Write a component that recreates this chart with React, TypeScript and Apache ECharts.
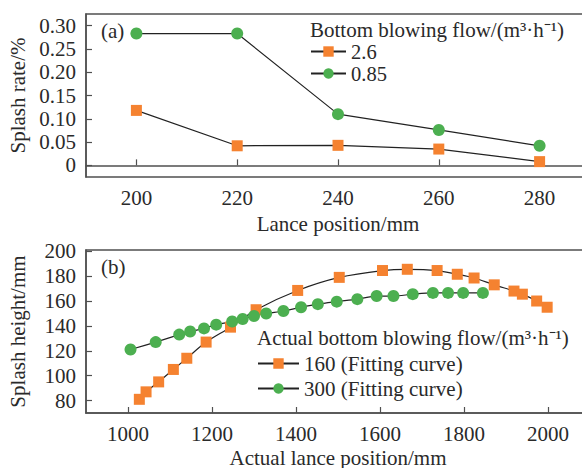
import React, { useEffect, useRef } from "react";
import * as echarts from "echarts";

const lancePos = [200, 220, 240, 260, 280];
const rate26 = [0.118, 0.042, 0.043, 0.035, 0.008];
const rate085 = [0.283, 0.283, 0.11, 0.076, 0.042];
const rateTicks = [0, 0.05, 0.1, 0.15, 0.2, 0.25, 0.3];

const pos160 = [1027, 1043, 1073, 1108, 1140, 1186, 1244, 1305, 1404, 1503, 1606, 1665, 1736, 1784, 1824, 1872, 1919, 1939, 1973, 1998];
const h160 = [81, 87, 95, 105, 114, 127, 139, 153, 168.5, 179, 184.5, 185.5, 184.5, 181.5, 178.5, 173, 168, 165.5, 160, 155];
const pos300 = [1006, 1066, 1122, 1148, 1181, 1210, 1248, 1273, 1300, 1329, 1370, 1412, 1452, 1497, 1546, 1592, 1632, 1678, 1726, 1762, 1798, 1845];
const h300 = [121, 127, 133, 135.5, 138, 141, 143.5, 145.5, 148, 150, 152, 155, 157.5, 159.5, 161.5, 164, 164, 165.5, 166.5, 166.5, 166.5, 166.5];
const heightTicks = [80, 100, 120, 140, 160, 180, 200];
const actualPosTicks = [1000, 1200, 1400, 1600, 1800, 2000];

const FONT = "Liberation Serif";
const TXT = "#2a2a2a";
const AXIS = "#505050";
const ORANGE = "#F58230";
const GREEN = "#4CAF50";
const FS = 21;

export default function App() {
  const ref = useRef<HTMLDivElement>(null);
  useEffect(() => {
    if (!ref.current) return;
    const chart = echarts.init(ref.current, null, { renderer: "svg" });
    const axisCommon = {
      axisLine: { show: true, lineStyle: { color: AXIS, width: 1.5 } },
      axisTick: { show: true, inside: true, length: 6, lineStyle: { color: AXIS, width: 1.2 } },
      splitLine: { show: false },
      axisLabel: { color: TXT, fontFamily: FONT, fontSize: FS, margin: 10, formatter: (v: number) => String(v) },
      nameTextStyle: { color: TXT, fontFamily: FONT, fontSize: FS },
    };
    const option: any = {
      animation: false,
      textStyle: { fontFamily: FONT },
      grid: [
        { left: 86, top: 14, width: 504, height: 163, show: true, borderColor: AXIS, borderWidth: 1.5, containLabel: false, outerBoundsMode: "none" },
        { left: 86, top: 250, width: 504, height: 163, show: true, borderColor: AXIS, borderWidth: 1.5, containLabel: false, outerBoundsMode: "none" },
      ],
      xAxis: [
        {
          ...axisCommon,
          type: "value",
          gridIndex: 0,
          min: 190,
          max: 290,
          name: "Lance position/mm",
          nameLocation: "middle",
          nameGap: 36,
          axisTick: { ...axisCommon.axisTick, customValues: lancePos },
          axisLabel: { ...axisCommon.axisLabel, customValues: lancePos },
        },
        {
          ...axisCommon,
          type: "value",
          gridIndex: 1,
          min: 900,
          max: 2100,
          name: "Actual lance position/mm",
          nameLocation: "middle",
          nameGap: 34,
          axisTick: { ...axisCommon.axisTick, customValues: actualPosTicks },
          axisLabel: { ...axisCommon.axisLabel, customValues: actualPosTicks },
        },
      ],
      yAxis: [
        {
          ...axisCommon,
          type: "value",
          gridIndex: 0,
          min: -0.025,
          max: 0.325,
          name: "Splash rate/%",
          nameLocation: "middle",
          nameGap: 58,
          axisTick: { ...axisCommon.axisTick, customValues: rateTicks },
          axisLabel: {
            ...axisCommon.axisLabel,
            customValues: rateTicks,
            formatter: (v: number) => (v === 0 ? "0" : v.toFixed(2)),
          },
        },
        {
          ...axisCommon,
          type: "value",
          gridIndex: 1,
          min: 70,
          max: 201,
          name: "Splash height/mm",
          nameLocation: "middle",
          nameGap: 58,
          axisTick: { ...axisCommon.axisTick, customValues: heightTicks },
          axisLabel: { ...axisCommon.axisLabel, customValues: heightTicks },
        },
      ],
      legend: [
        {
          orient: "vertical",
          left: 310,
          top: 41,
          itemWidth: 35,
          itemHeight: 13,
          itemGap: 1,
          padding: 0,
          data: ["2.6", "0.85"],
          textStyle: { color: TXT, fontFamily: FONT, fontSize: 20.5, lineHeight: 20 },
        },
        {
          orient: "vertical",
          left: 257,
          top: 353,
          itemWidth: 41,
          itemHeight: 13,
          itemGap: 4,
          padding: 0,
          data: ["160 (Fitting curve)", "300 (Fitting curve)"],
          textStyle: { color: TXT, fontFamily: FONT, fontSize: FS, lineHeight: 21 },
        },
      ],
      graphic: [
        { type: "text", left: 101, top: 20, style: { text: "(a)", font: `${FS}px ${FONT}`, fill: TXT } },
        { type: "text", left: 101, top: 256, style: { text: "(b)", font: `${FS}px ${FONT}`, fill: TXT } },
        { type: "text", left: 310, top: 19, style: { text: "Bottom blowing flow/(m³·h⁻¹)", font: `${FS}px ${FONT}`, fill: TXT } },
        { type: "text", left: 257, top: 327, style: { text: "Actual bottom blowing flow/(m³·h⁻¹)", font: `${FS}px ${FONT}`, fill: TXT } },
      ],
      series: [
        {
          name: "2.6",
          type: "line",
          xAxisIndex: 0,
          yAxisIndex: 0,
          data: lancePos.map((x, i) => [x, rate26[i]]),
          symbol: "rect",
          symbolSize: 11,
          itemStyle: { color: ORANGE },
          lineStyle: { color: "#222", width: 1.2 },
        },
        {
          name: "0.85",
          type: "line",
          xAxisIndex: 0,
          yAxisIndex: 0,
          data: lancePos.map((x, i) => [x, rate085[i]]),
          symbol: "circle",
          symbolSize: 12,
          itemStyle: { color: GREEN },
          lineStyle: { color: "#222", width: 1.2 },
        },
        {
          name: "160 (Fitting curve)",
          type: "line",
          xAxisIndex: 1,
          yAxisIndex: 1,
          smooth: 0.3,
          data: pos160.map((x, i) => [x, h160[i]]),
          symbol: "rect",
          symbolSize: 11,
          itemStyle: { color: ORANGE },
          lineStyle: { color: "#222", width: 1.2 },
        },
        {
          name: "300 (Fitting curve)",
          type: "line",
          xAxisIndex: 1,
          yAxisIndex: 1,
          smooth: 0.3,
          data: pos300.map((x, i) => [x, h300[i]]),
          symbol: "circle",
          symbolSize: 12,
          itemStyle: { color: GREEN },
          lineStyle: { color: "#222", width: 1.2 },
        },
      ],
    };
    chart.setOption(option);
    return () => chart.dispose();
  }, []);
  return <div ref={ref} style={{ width: 582, height: 468, position: "absolute", left: 0, top: 0 }} />;
}
